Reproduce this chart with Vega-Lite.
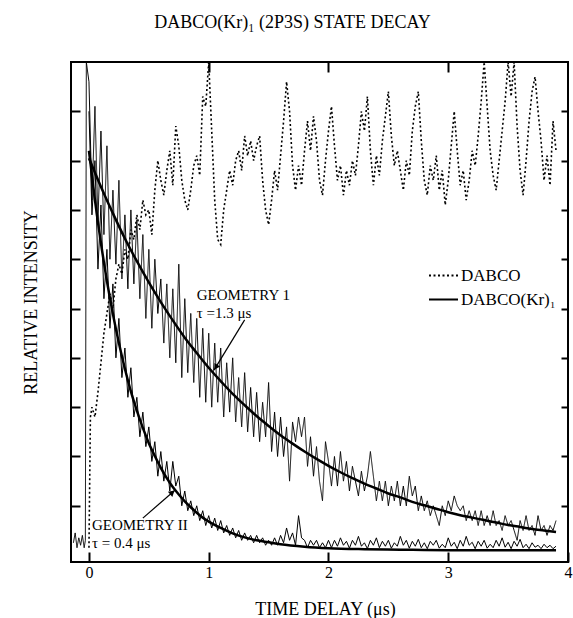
{
  "$schema": "https://vega.github.io/schema/vega-lite/v6.json",
  "autosize": {"type": "none"},
  "padding": {"left": 71, "top": 62, "right": 5, "bottom": 56},
  "width": 497,
  "height": 500,
  "background": "white",
  "title": {"text": "DABCO(Kr)₁ (2P3S) STATE DECAY", "font": "Liberation Serif", "fontSize": 18, "fontWeight": "normal", "color": "black", "anchor": "middle", "baseline": "alphabetic", "offset": 15, "dx": -27},
  "config": {"view": {"stroke": "black", "strokeWidth": 2}, "font": "Liberation Serif"},
  "datasets": {
    "g1": [
      {"t":-0.13,"y":0.25},{"t":-0.115,"y":0.45},{"t":-0.1,"y":0.15},{"t":-0.085,"y":0.35},{"t":-0.07,"y":0.2},{"t":-0.055,"y":0.4},{"t":-0.04,"y":0.15},{"t":-0.03,"y":0.3},{"t":-0.022,"y":10},
      {"t":0,"y":9.6},{"t":0.025,"y":7.2},{"t":0.05,"y":9.1},{"t":0.075,"y":6.8},{"t":0.1,"y":8.6},{"t":0.125,"y":6.5},{"t":0.15,"y":8.3},{"t":0.175,"y":6.0},{"t":0.2,"y":7.4},{"t":0.225,"y":5.9},{"t":0.25,"y":7.6},{"t":0.275,"y":5.6},{"t":0.3,"y":6.9},{"t":0.325,"y":5.4},{"t":0.35,"y":7.0},{"t":0.375,"y":5.5},{"t":0.4,"y":6.8},{"t":0.425,"y":5.2},{"t":0.45,"y":6.5},{"t":0.475,"y":4.8},{"t":0.5,"y":6.2},{"t":0.525,"y":4.6},{"t":0.55,"y":6.0},{"t":0.575,"y":4.9},{"t":0.6,"y":5.6},{"t":0.625,"y":4.3},{"t":0.65,"y":5.5},{"t":0.675,"y":4.0},{"t":0.7,"y":5.4},{"t":0.725,"y":3.9},{"t":0.75,"y":5.9},{"t":0.775,"y":3.6},{"t":0.8,"y":5.2},{"t":0.825,"y":3.7},{"t":0.85,"y":4.9},{"t":0.875,"y":3.5},{"t":0.9,"y":4.8},{"t":0.925,"y":3.2},{"t":0.95,"y":4.6},{"t":0.975,"y":3.1},
      {"t":1.0,"y":4.5},{"t":1.025,"y":3.0},{"t":1.05,"y":4.3},{"t":1.075,"y":3.1},{"t":1.1,"y":4.2},{"t":1.125,"y":2.8},{"t":1.15,"y":3.9},{"t":1.175,"y":2.9},{"t":1.2,"y":4.0},{"t":1.225,"y":2.7},{"t":1.25,"y":3.6},{"t":1.275,"y":2.6},{"t":1.3,"y":3.7},{"t":1.325,"y":2.5},{"t":1.35,"y":3.4},{"t":1.375,"y":2.4},{"t":1.4,"y":3.3},{"t":1.425,"y":2.3},{"t":1.45,"y":3.1},{"t":1.475,"y":2.4},{"t":1.5,"y":3.5},{"t":1.525,"y":2.1},{"t":1.55,"y":2.9},{"t":1.575,"y":2.0},{"t":1.6,"y":2.8},{"t":1.625,"y":2.0},{"t":1.65,"y":2.6},{"t":1.675,"y":1.5},{"t":1.7,"y":2.7},{"t":1.725,"y":2.3},{"t":1.75,"y":2.8},{"t":1.775,"y":2.4},{"t":1.8,"y":2.8},{"t":1.825,"y":1.8},{"t":1.85,"y":2.4},{"t":1.875,"y":1.6},{"t":1.9,"y":2.2},{"t":1.925,"y":1.5},{"t":1.95,"y":1.1},{"t":1.975,"y":2.3},
      {"t":2.0,"y":1.9},{"t":2.025,"y":1.4},{"t":2.05,"y":2.0},{"t":2.075,"y":1.4},{"t":2.1,"y":2.1},{"t":2.125,"y":1.5},{"t":2.15,"y":1.9},{"t":2.175,"y":1.3},{"t":2.2,"y":1.8},{"t":2.225,"y":1.5},{"t":2.25,"y":1.2},{"t":2.275,"y":1.7},{"t":2.3,"y":1.3},{"t":2.325,"y":1.6},{"t":2.35,"y":2.1},{"t":2.375,"y":1.6},{"t":2.4,"y":1.1},{"t":2.425,"y":1.5},{"t":2.45,"y":1.1},{"t":2.475,"y":1.5},{"t":2.5,"y":1.0},{"t":2.525,"y":1.4},{"t":2.55,"y":1.1},{"t":2.575,"y":1.5},{"t":2.6,"y":1.0},{"t":2.625,"y":1.4},{"t":2.65,"y":1.0},{"t":2.675,"y":1.6},{"t":2.7,"y":1.2},{"t":2.725,"y":1.4},{"t":2.75,"y":0.9},{"t":2.775,"y":1.2},{"t":2.8,"y":0.9},{"t":2.825,"y":1.1},{"t":2.85,"y":0.8},{"t":2.875,"y":1.0},{"t":2.9,"y":0.8},{"t":2.925,"y":0.6},{"t":2.95,"y":1.0},{"t":2.975,"y":0.8},
      {"t":3.0,"y":1.1},{"t":3.025,"y":0.9},{"t":3.05,"y":1.2},{"t":3.075,"y":1.0},{"t":3.1,"y":0.9},{"t":3.125,"y":1.0},{"t":3.15,"y":0.7},{"t":3.175,"y":0.9},{"t":3.2,"y":0.7},{"t":3.225,"y":0.9},{"t":3.25,"y":0.6},{"t":3.275,"y":0.9},{"t":3.3,"y":0.6},{"t":3.325,"y":0.8},{"t":3.35,"y":0.6},{"t":3.375,"y":0.9},{"t":3.4,"y":0.6},{"t":3.425,"y":0.7},{"t":3.45,"y":0.5},{"t":3.475,"y":0.8},{"t":3.5,"y":0.6},{"t":3.525,"y":0.7},{"t":3.55,"y":0.5},{"t":3.575,"y":0.3},{"t":3.6,"y":0.7},{"t":3.625,"y":0.5},{"t":3.65,"y":0.8},{"t":3.675,"y":0.5},{"t":3.7,"y":0.6},{"t":3.725,"y":0.4},{"t":3.75,"y":0.8},{"t":3.775,"y":0.5},{"t":3.8,"y":0.6},{"t":3.825,"y":0.4},{"t":3.85,"y":0.6},{"t":3.875,"y":0.5},{"t":3.9,"y":0.7}
    ],
    "g2": [
      {"t":0,"y":9.0},{"t":0.025,"y":6.9},{"t":0.05,"y":8.0},{"t":0.075,"y":5.8},{"t":0.1,"y":7.1},{"t":0.125,"y":5.2},{"t":0.15,"y":6.2},{"t":0.175,"y":4.6},{"t":0.2,"y":5.5},{"t":0.225,"y":4.0},{"t":0.25,"y":4.8},{"t":0.275,"y":3.6},{"t":0.3,"y":4.2},{"t":0.325,"y":3.2},{"t":0.35,"y":3.8},{"t":0.375,"y":2.8},{"t":0.4,"y":3.2},{"t":0.425,"y":2.4},{"t":0.45,"y":2.9},{"t":0.475,"y":2.2},{"t":0.5,"y":2.6},{"t":0.525,"y":1.9},{"t":0.55,"y":2.3},{"t":0.575,"y":1.6},{"t":0.6,"y":2.1},{"t":0.625,"y":1.5},{"t":0.65,"y":1.9},{"t":0.675,"y":1.3},{"t":0.7,"y":1.9},{"t":0.725,"y":1.4},{"t":0.75,"y":1.6},{"t":0.775,"y":1.0},{"t":0.8,"y":1.3},{"t":0.825,"y":0.9},{"t":0.85,"y":1.1},{"t":0.875,"y":0.8},{"t":0.9,"y":1.0},{"t":0.925,"y":0.7},{"t":0.95,"y":0.9},{"t":0.975,"y":0.6},
      {"t":1.0,"y":0.8},{"t":1.025,"y":0.55},{"t":1.05,"y":0.75},{"t":1.075,"y":0.5},{"t":1.1,"y":0.7},{"t":1.125,"y":0.45},{"t":1.15,"y":0.6},{"t":1.175,"y":0.4},{"t":1.2,"y":0.55},{"t":1.225,"y":0.35},{"t":1.25,"y":0.5},{"t":1.275,"y":0.3},{"t":1.3,"y":0.45},{"t":1.325,"y":0.3},{"t":1.35,"y":0.4},{"t":1.375,"y":0.25},{"t":1.4,"y":0.4},{"t":1.425,"y":0.25},{"t":1.45,"y":0.35},{"t":1.475,"y":0.2},{"t":1.5,"y":0.3},{"t":1.525,"y":0.2},{"t":1.55,"y":0.35},{"t":1.575,"y":0.2},{"t":1.6,"y":0.4},{"t":1.625,"y":0.25},{"t":1.65,"y":0.55},{"t":1.675,"y":0.3},{"t":1.7,"y":0.45},{"t":1.725,"y":0.2},{"t":1.75,"y":0.8},{"t":1.775,"y":0.35},{"t":1.8,"y":0.3},{"t":1.825,"y":0.15},{"t":1.85,"y":0.3},{"t":1.875,"y":0.2},{"t":1.9,"y":0.3},{"t":1.925,"y":0.15},{"t":1.95,"y":0.25},{"t":1.975,"y":0.15},
      {"t":2.0,"y":0.3},{"t":2.025,"y":0.15},{"t":2.05,"y":0.3},{"t":2.075,"y":0.18},{"t":2.1,"y":0.35},{"t":2.125,"y":0.2},{"t":2.15,"y":0.28},{"t":2.175,"y":0.14},{"t":2.2,"y":0.3},{"t":2.225,"y":0.2},{"t":2.25,"y":0.38},{"t":2.275,"y":0.18},{"t":2.3,"y":0.25},{"t":2.325,"y":0.13},{"t":2.35,"y":0.3},{"t":2.375,"y":0.2},{"t":2.4,"y":0.35},{"t":2.425,"y":0.15},{"t":2.45,"y":0.28},{"t":2.475,"y":0.18},{"t":2.5,"y":0.3},{"t":2.525,"y":0.14},{"t":2.55,"y":0.25},{"t":2.575,"y":0.18},{"t":2.6,"y":0.38},{"t":2.625,"y":0.2},{"t":2.65,"y":0.3},{"t":2.675,"y":0.14},{"t":2.7,"y":0.28},{"t":2.725,"y":0.18},{"t":2.75,"y":0.32},{"t":2.775,"y":0.15},{"t":2.8,"y":0.25},{"t":2.825,"y":0.13},{"t":2.85,"y":0.28},{"t":2.875,"y":0.2},{"t":2.9,"y":0.3},{"t":2.925,"y":0.14},{"t":2.95,"y":0.22},{"t":2.975,"y":0.15},
      {"t":3.0,"y":0.35},{"t":3.025,"y":0.18},{"t":3.05,"y":0.26},{"t":3.075,"y":0.13},{"t":3.1,"y":0.3},{"t":3.125,"y":0.18},{"t":3.15,"y":0.38},{"t":3.175,"y":0.2},{"t":3.2,"y":0.26},{"t":3.225,"y":0.13},{"t":3.25,"y":0.28},{"t":3.275,"y":0.18},{"t":3.3,"y":0.3},{"t":3.325,"y":0.14},{"t":3.35,"y":0.22},{"t":3.375,"y":0.15},{"t":3.4,"y":0.3},{"t":3.425,"y":0.18},{"t":3.45,"y":0.35},{"t":3.475,"y":0.16},{"t":3.5,"y":0.26},{"t":3.525,"y":0.13},{"t":3.55,"y":0.28},{"t":3.575,"y":0.18},{"t":3.6,"y":0.32},{"t":3.625,"y":0.15},{"t":3.65,"y":0.22},{"t":3.675,"y":0.13},{"t":3.7,"y":0.25},{"t":3.725,"y":0.16},{"t":3.75,"y":0.2},{"t":3.775,"y":0.13},{"t":3.8,"y":0.22},{"t":3.825,"y":0.15},{"t":3.85,"y":0.2},{"t":3.875,"y":0.13},{"t":3.9,"y":0.18}
    ],
    "dabco": [
      {"t":0,"y":0.15},{"t":0.012,"y":2.8},{"t":0.025,"y":3.0},{"t":0.05,"y":2.8},{"t":0.075,"y":3.3},{"t":0.1,"y":3.9},{"t":0.125,"y":4.5},{"t":0.15,"y":4.9},{"t":0.175,"y":5.3},{"t":0.2,"y":5.0},{"t":0.225,"y":5.6},{"t":0.25,"y":5.9},{"t":0.275,"y":5.7},{"t":0.3,"y":6.2},{"t":0.325,"y":6.0},{"t":0.35,"y":6.6},{"t":0.375,"y":6.4},{"t":0.4,"y":6.9},{"t":0.425,"y":6.6},{"t":0.45,"y":7.2},{"t":0.475,"y":6.9},{"t":0.5,"y":7.0},{"t":0.525,"y":6.5},{"t":0.55,"y":7.4},{"t":0.575,"y":8.0},{"t":0.6,"y":7.6},{"t":0.625,"y":7.3},{"t":0.65,"y":7.8},{"t":0.675,"y":8.2},{"t":0.7,"y":7.5},{"t":0.725,"y":8.7},{"t":0.75,"y":8.3},{"t":0.775,"y":7.6},{"t":0.8,"y":7.2},{"t":0.825,"y":7.0},{"t":0.85,"y":7.4},{"t":0.875,"y":7.9},{"t":0.9,"y":8.1},{"t":0.925,"y":7.7},{"t":0.95,"y":9.3},{"t":0.975,"y":9.1},
      {"t":1.0,"y":10.0},{"t":1.025,"y":8.6},{"t":1.05,"y":7.2},{"t":1.075,"y":6.4},{"t":1.1,"y":6.3},{"t":1.125,"y":7.0},{"t":1.15,"y":7.4},{"t":1.175,"y":7.8},{"t":1.2,"y":7.5},{"t":1.225,"y":8.0},{"t":1.25,"y":8.2},{"t":1.275,"y":7.8},{"t":1.3,"y":8.5},{"t":1.325,"y":8.1},{"t":1.35,"y":8.4},{"t":1.375,"y":8.0},{"t":1.4,"y":8.3},{"t":1.425,"y":8.5},{"t":1.45,"y":7.6},{"t":1.475,"y":7.0},{"t":1.5,"y":6.7},{"t":1.525,"y":7.2},{"t":1.55,"y":7.8},{"t":1.575,"y":7.4},{"t":1.6,"y":8.1},{"t":1.625,"y":8.8},{"t":1.65,"y":9.6},{"t":1.675,"y":9.0},{"t":1.7,"y":7.9},{"t":1.725,"y":7.4},{"t":1.75,"y":7.9},{"t":1.775,"y":7.5},{"t":1.8,"y":8.2},{"t":1.825,"y":8.8},{"t":1.85,"y":8.2},{"t":1.875,"y":8.9},{"t":1.9,"y":8.4},{"t":1.925,"y":7.6},{"t":1.95,"y":7.3},{"t":1.975,"y":8.0},
      {"t":2.0,"y":8.6},{"t":2.025,"y":9.1},{"t":2.05,"y":8.3},{"t":2.075,"y":7.6},{"t":2.1,"y":7.9},{"t":2.125,"y":7.3},{"t":2.15,"y":7.8},{"t":2.175,"y":7.5},{"t":2.2,"y":8.0},{"t":2.225,"y":7.7},{"t":2.25,"y":8.3},{"t":2.275,"y":9.0},{"t":2.3,"y":8.6},{"t":2.325,"y":9.3},{"t":2.35,"y":8.2},{"t":2.375,"y":7.5},{"t":2.4,"y":8.1},{"t":2.425,"y":7.7},{"t":2.45,"y":8.4},{"t":2.475,"y":8.9},{"t":2.5,"y":9.4},{"t":2.525,"y":8.5},{"t":2.55,"y":7.9},{"t":2.575,"y":8.2},{"t":2.6,"y":7.8},{"t":2.625,"y":7.4},{"t":2.65,"y":8.0},{"t":2.675,"y":7.7},{"t":2.7,"y":8.6},{"t":2.725,"y":9.1},{"t":2.75,"y":9.4},{"t":2.775,"y":8.4},{"t":2.8,"y":7.6},{"t":2.825,"y":7.3},{"t":2.85,"y":7.9},{"t":2.875,"y":7.6},{"t":2.9,"y":8.1},{"t":2.925,"y":7.4},{"t":2.95,"y":7.8},{"t":2.975,"y":7.1},
      {"t":3.0,"y":7.6},{"t":3.025,"y":8.3},{"t":3.05,"y":9.0},{"t":3.075,"y":8.2},{"t":3.1,"y":7.5},{"t":3.125,"y":7.8},{"t":3.15,"y":7.2},{"t":3.175,"y":7.6},{"t":3.2,"y":8.2},{"t":3.225,"y":7.9},{"t":3.25,"y":8.5},{"t":3.275,"y":9.2},{"t":3.3,"y":10.0},{"t":3.325,"y":9.1},{"t":3.35,"y":8.2},{"t":3.375,"y":7.7},{"t":3.4,"y":7.4},{"t":3.425,"y":8.0},{"t":3.45,"y":8.6},{"t":3.475,"y":9.2},{"t":3.5,"y":10.0},{"t":3.525,"y":9.3},{"t":3.55,"y":10.0},{"t":3.575,"y":8.7},{"t":3.6,"y":7.8},{"t":3.625,"y":7.3},{"t":3.65,"y":8.0},{"t":3.675,"y":8.8},{"t":3.7,"y":9.4},{"t":3.725,"y":9.7},{"t":3.75,"y":9.0},{"t":3.775,"y":8.4},{"t":3.8,"y":7.6},{"t":3.825,"y":8.1},{"t":3.85,"y":7.5},{"t":3.875,"y":8.8},{"t":3.9,"y":8.2}
    ],
    "fit1": [
      {"t":0,"y":8.05},{"t":0.1,"y":7.47},{"t":0.2,"y":6.93},{"t":0.3,"y":6.42},{"t":0.4,"y":5.96},{"t":0.5,"y":5.53},{"t":0.6,"y":5.13},{"t":0.7,"y":4.76},{"t":0.8,"y":4.41},{"t":0.9,"y":4.10},{"t":1.0,"y":3.80},{"t":1.1,"y":3.53},{"t":1.2,"y":3.27},{"t":1.3,"y":3.04},{"t":1.4,"y":2.82},{"t":1.5,"y":2.62},{"t":1.6,"y":2.43},{"t":1.7,"y":2.26},{"t":1.8,"y":2.10},{"t":1.9,"y":1.95},{"t":2.0,"y":1.81},{"t":2.1,"y":1.68},{"t":2.2,"y":1.56},{"t":2.3,"y":1.45},{"t":2.4,"y":1.35},{"t":2.5,"y":1.25},{"t":2.6,"y":1.17},{"t":2.7,"y":1.08},{"t":2.8,"y":1.01},{"t":2.9,"y":0.94},{"t":3.0,"y":0.87},{"t":3.1,"y":0.81},{"t":3.2,"y":0.76},{"t":3.3,"y":0.71},{"t":3.4,"y":0.66},{"t":3.5,"y":0.61},{"t":3.6,"y":0.57},{"t":3.7,"y":0.53},{"t":3.8,"y":0.50},{"t":3.9,"y":0.47}
    ],
    "fit2": [
      {"t":0,"y":8.2},{"t":0.05,"y":7.2},{"t":0.1,"y":6.33},{"t":0.15,"y":5.56},{"t":0.2,"y":4.89},{"t":0.25,"y":4.30},{"t":0.3,"y":3.78},{"t":0.35,"y":3.32},{"t":0.4,"y":2.93},{"t":0.45,"y":2.58},{"t":0.5,"y":2.27},{"t":0.55,"y":2.01},{"t":0.6,"y":1.77},{"t":0.65,"y":1.56},{"t":0.7,"y":1.38},{"t":0.75,"y":1.23},{"t":0.8,"y":1.09},{"t":0.85,"y":0.97},{"t":0.9,"y":0.86},{"t":0.95,"y":0.76},{"t":1.0,"y":0.68},{"t":1.1,"y":0.55},{"t":1.2,"y":0.44},{"t":1.3,"y":0.36},{"t":1.4,"y":0.30},{"t":1.5,"y":0.26},{"t":1.6,"y":0.22},{"t":1.8,"y":0.17},{"t":2.0,"y":0.14},{"t":2.3,"y":0.12},{"t":2.6,"y":0.11},{"t":3.0,"y":0.10},{"t":3.5,"y":0.10},{"t":3.9,"y":0.10}
    ],
    "labels": [
      {"x":0.9,"y":5.27,"text":"GEOMETRY 1"},
      {"x":0.9,"y":4.91,"text":"τ =1.3 μs"},
      {"x":0.025,"y":0.61,"text":"GEOMETRY II"},
      {"x":0.025,"y":0.245,"text":"τ = 0.4 μs"}
    ],
    "arrows": [
      {"x":1.30,"y":4.77,"x2":1.044,"y2":3.75},
      {"x":0.45,"y":0.75,"x2":0.72,"y2":1.32}
    ],
    "head1": [{"x":1.059,"y":3.81}],
    "head2": [{"x":0.696,"y":1.27}]
  },
  "layer": [
    {
      "data": {"name": "g1"},
      "mark": {"type": "line", "color": "black", "strokeWidth": 1, "clip": true},
      "encoding": {
        "x": {"field": "t", "type": "quantitative", "scale": {"domain": [-0.15, 4], "nice": false, "zero": false},
          "axis": {"orient": "bottom", "values": [0, 1, 2, 3, 4], "format": "d", "offset": -10, "tickSize": 10, "tickWidth": 2, "tickColor": "black", "domain": false, "grid": false,
            "labelFont": "Liberation Serif", "labelFontSize": 16, "labelColor": "black", "labelPadding": 2, "labelFlush": false,
            "title": "TIME DELAY (μs)", "titleFont": "Liberation Serif", "titleFontSize": 18, "titleFontWeight": "normal", "titleColor": "black", "titleX": 254, "titleY": 57, "titleBaseline": "middle", "titleAlign": "center"}},
        "y": {"field": "y", "type": "quantitative", "scale": {"domain": [-0.14, 10], "nice": false, "zero": false},
          "axis": {"orient": "left", "values": [1, 2, 3, 4, 5, 6, 7, 8, 9], "offset": -9, "tickSize": 9, "tickWidth": 2, "tickColor": "black", "domain": false, "grid": false, "labels": false,
            "title": "RELATIVE INTENSITY", "titleFont": "Liberation Serif", "titleFontSize": 18, "titleFontWeight": "normal", "titleColor": "black", "titleX": -49, "titleY": 240, "titleAngle": -90, "titleBaseline": "middle", "titleAlign": "center"}},
        "strokeDash": {"datum": "DABCO(Kr)₁", "type": "nominal", "scale": {"domain": ["DABCO", "DABCO(Kr)₁"], "range": [[2, 2.5], [1, 0]]},
          "legend": {"orient": "none", "legendX": 357, "legendY": 198, "title": null, "symbolType": "stroke", "symbolSize": 841, "symbolStrokeWidth": 2, "symbolStrokeColor": "black", "labelFont": "Liberation Serif", "labelFontSize": 17, "labelColor": "black", "labelOffset": 2, "rowPadding": -9}}
      }
    },
    {
      "data": {"name": "g2"},
      "mark": {"type": "line", "color": "black", "strokeWidth": 1, "clip": true},
      "encoding": {
        "x": {"field": "t", "type": "quantitative", "axis": null},
        "y": {"field": "y", "type": "quantitative", "axis": null}
      }
    },
    {
      "data": {"name": "dabco"},
      "mark": {"type": "line", "color": "black", "strokeWidth": 1.6, "clip": true},
      "encoding": {
        "x": {"field": "t", "type": "quantitative", "axis": null},
        "y": {"field": "y", "type": "quantitative", "axis": null},
        "strokeDash": {"datum": "DABCO", "type": "nominal"}
      }
    },
    {
      "data": {"name": "fit1"},
      "mark": {"type": "line", "color": "black", "strokeWidth": 2.5, "interpolate": "monotone", "clip": true},
      "encoding": {
        "x": {"field": "t", "type": "quantitative", "axis": null},
        "y": {"field": "y", "type": "quantitative", "axis": null}
      }
    },
    {
      "data": {"name": "fit2"},
      "mark": {"type": "line", "color": "black", "strokeWidth": 2.5, "interpolate": "monotone", "clip": true},
      "encoding": {
        "x": {"field": "t", "type": "quantitative", "axis": null},
        "y": {"field": "y", "type": "quantitative", "axis": null}
      }
    },
    {
      "data": {"name": "arrows"},
      "mark": {"type": "rule", "color": "black", "strokeWidth": 1.2},
      "encoding": {
        "x": {"field": "x", "type": "quantitative", "axis": null},
        "y": {"field": "y", "type": "quantitative", "axis": null},
        "x2": {"field": "x2"},
        "y2": {"field": "y2"}
      }
    },
    {
      "data": {"name": "head1"},
      "mark": {"type": "point", "shape": "triangle-up", "filled": true, "color": "black", "opacity": 1, "size": 45, "angle": 212},
      "encoding": {
        "x": {"field": "x", "type": "quantitative", "axis": null},
        "y": {"field": "y", "type": "quantitative", "axis": null}
      }
    },
    {
      "data": {"name": "head2"},
      "mark": {"type": "point", "shape": "triangle-up", "filled": true, "color": "black", "opacity": 1, "size": 45, "angle": 49},
      "encoding": {
        "x": {"field": "x", "type": "quantitative", "axis": null},
        "y": {"field": "y", "type": "quantitative", "axis": null}
      }
    },
    {
      "data": {"name": "labels"},
      "mark": {"type": "text", "align": "left", "baseline": "middle", "font": "Liberation Serif", "fontSize": 15, "color": "black"},
      "encoding": {
        "x": {"field": "x", "type": "quantitative", "axis": null},
        "y": {"field": "y", "type": "quantitative", "axis": null},
        "text": {"field": "text"}
      }
    },
    {
      "data": {"name": "fit1"},
      "mark": {"type": "line", "opacity": 0},
      "encoding": {
        "x": {"field": "t", "type": "quantitative",
          "axis": {"orient": "top", "values": [1, 2, 3], "offset": -10, "tickSize": 10, "tickWidth": 2, "tickColor": "black", "domain": false, "grid": false, "labels": false, "title": null}},
        "y": {"field": "y", "type": "quantitative",
          "axis": {"orient": "right", "values": [1, 2, 3, 4, 5, 6, 7, 8, 9], "offset": -7, "tickSize": 7, "tickWidth": 2, "tickColor": "black", "domain": false, "grid": false, "labels": false, "title": null}}
      }
    }
  ],
  "resolve": {"axis": {"x": "independent", "y": "independent"}}
}
